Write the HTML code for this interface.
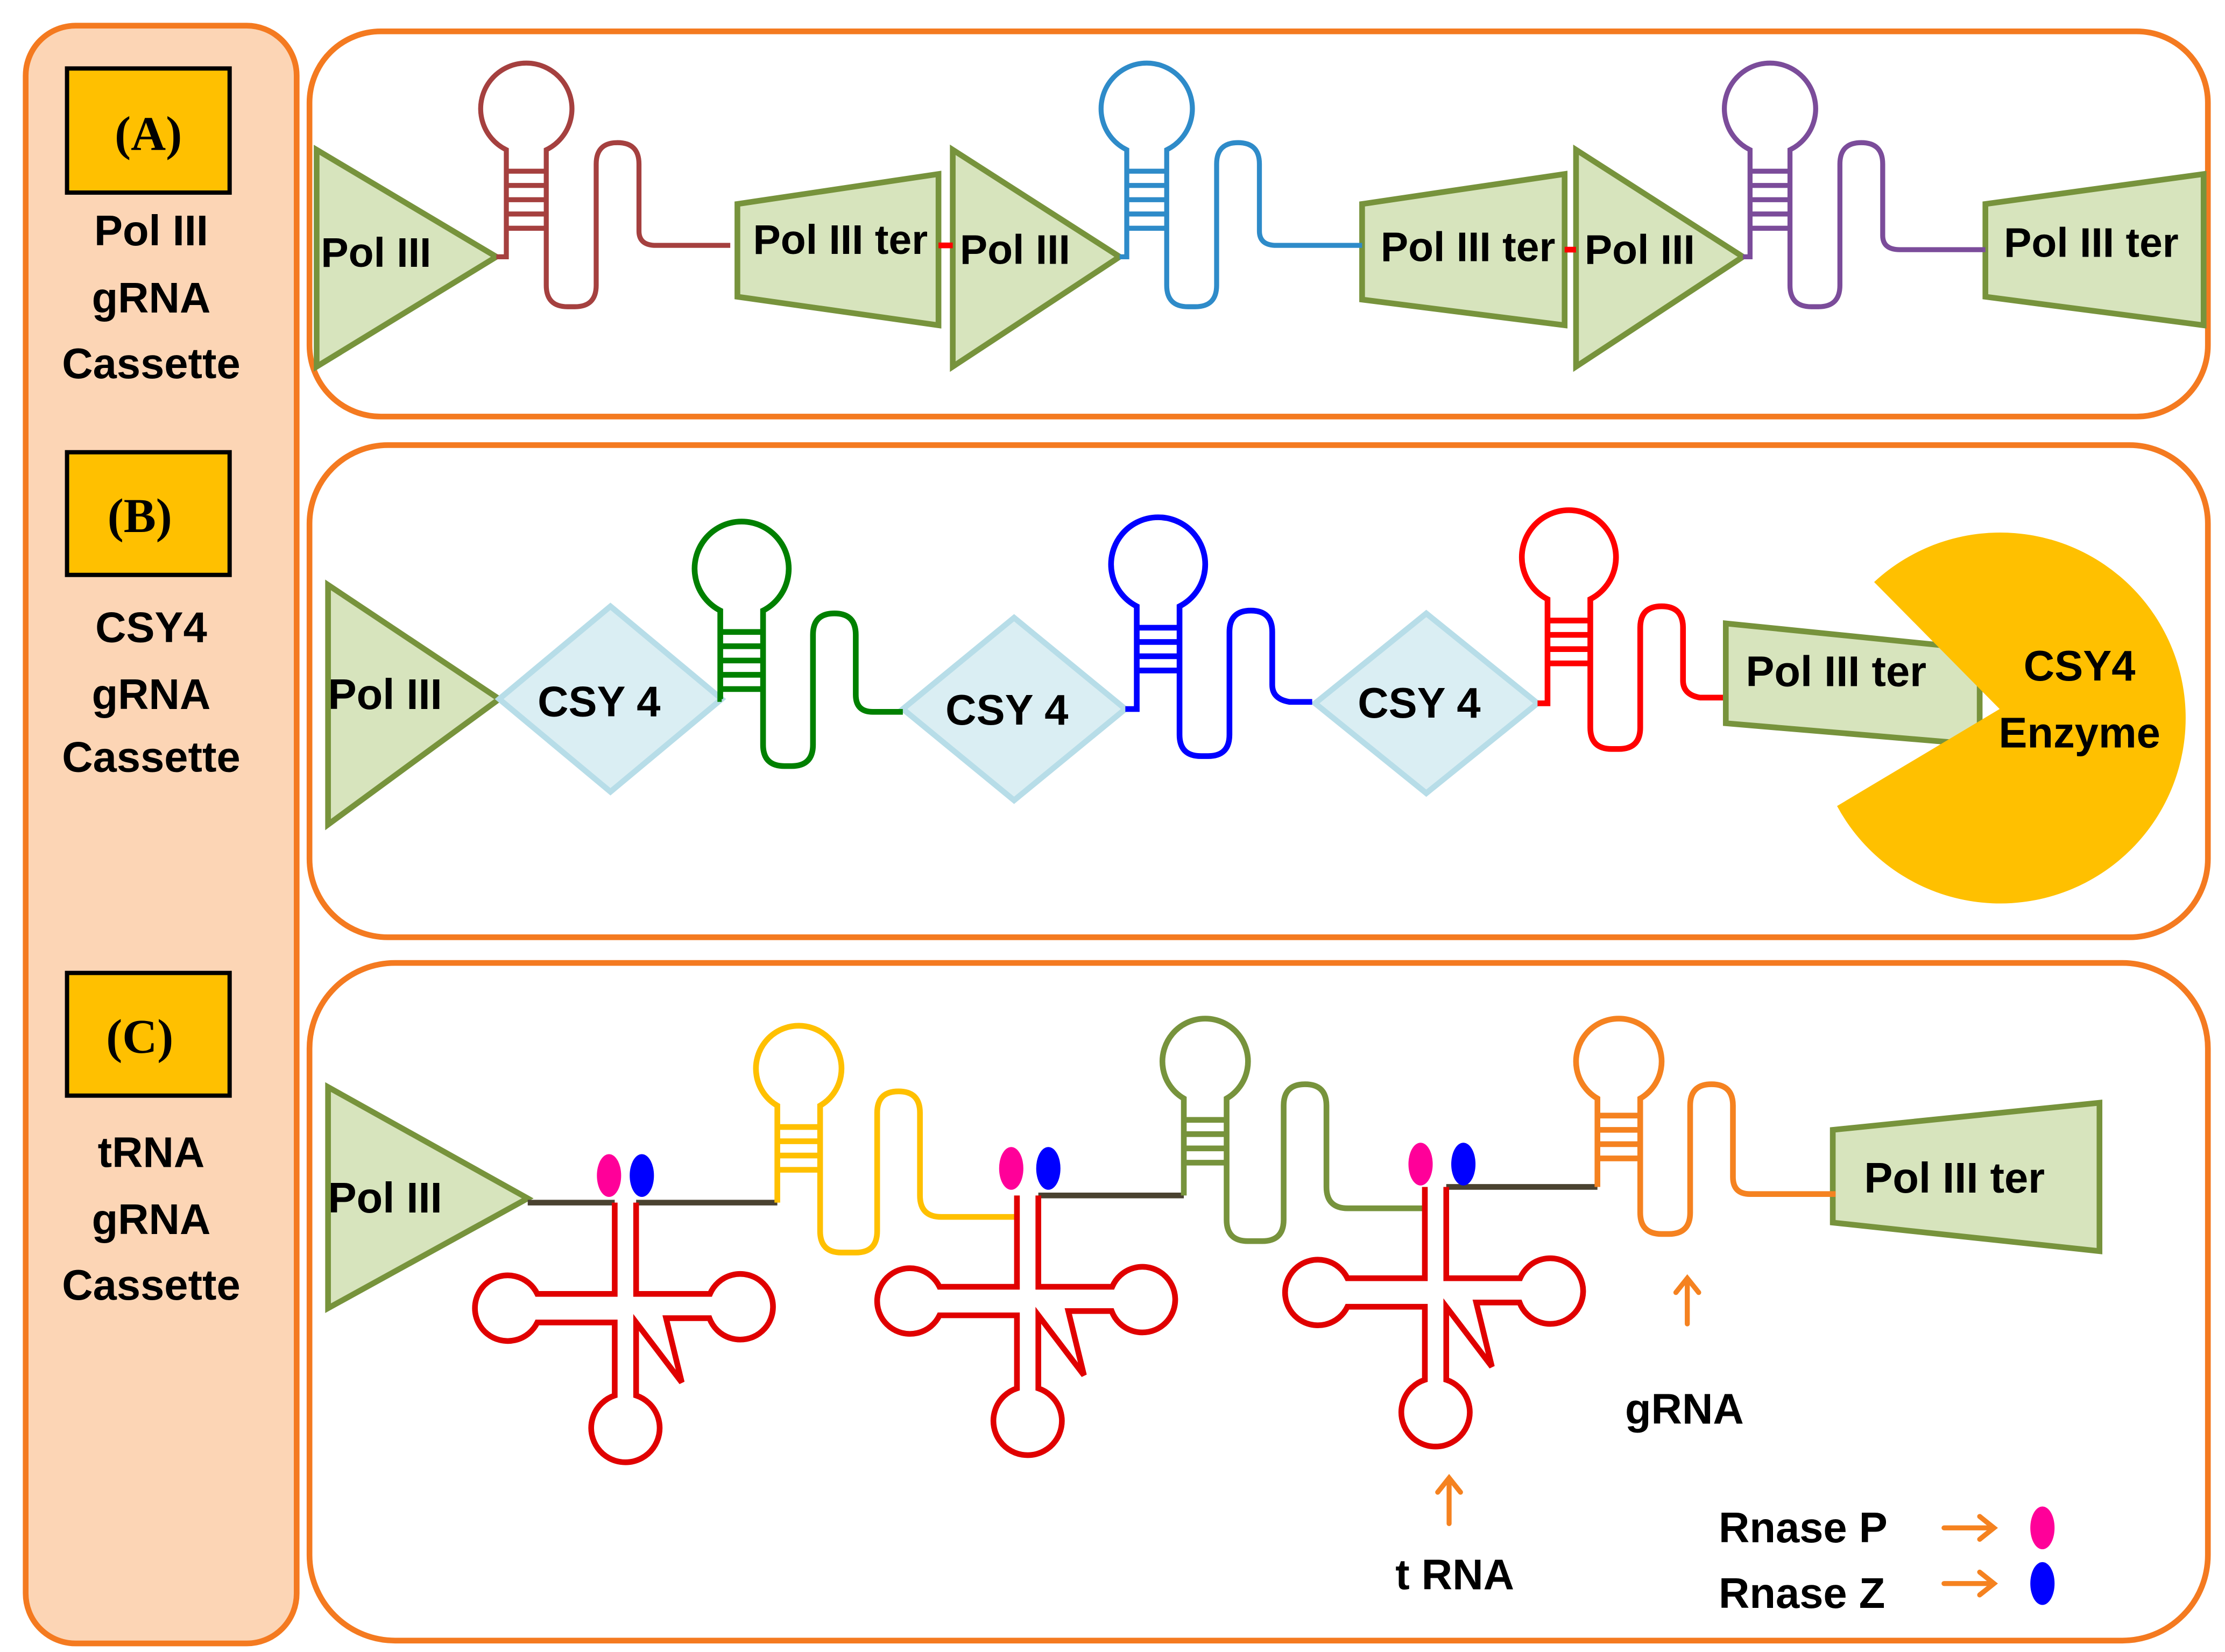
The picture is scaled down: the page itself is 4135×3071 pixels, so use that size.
<!DOCTYPE html>
<html><head><meta charset="utf-8"><style>
html,body{margin:0;padding:0;background:#fff;}
svg{display:block;}
text{font-family:"Liberation Sans",sans-serif;font-weight:bold;fill:#000;}
</style></head><body>
<svg width="4135" height="3071" viewBox="0 0 1560 1158" preserveAspectRatio="none" xmlns="http://www.w3.org/2000/svg">
<defs>
<marker id="ar" markerWidth="6" markerHeight="6" refX="4" refY="3" orient="auto" markerUnits="strokeWidth"><path d="M0,0 L4,3 L0,6" fill="none" stroke="#F58220" stroke-width="1.2"/></marker>
</defs>
<!-- left panel -->
<rect x="18" y="18" width="190" height="1134" rx="35" fill="#FCD5B5" stroke="#F47A20" stroke-width="4"/>
<rect x="217" y="22" width="1331" height="270" rx="50" fill="#fff" stroke="#F47A20" stroke-width="4"/>
<rect x="217" y="312" width="1331" height="345" rx="55" fill="#fff" stroke="#F47A20" stroke-width="4"/>
<rect x="217" y="675" width="1331" height="475" rx="60" fill="#fff" stroke="#F47A20" stroke-width="4"/>

<g font-size="30" text-anchor="middle">
<rect x="47" y="48" width="114" height="87" fill="#FFC000" stroke="#000" stroke-width="3"/>
<text x="104" y="105" style="font-family:'Liberation Serif',serif" font-size="34">(A)</text>
<text x="106" y="172">Pol III</text><text x="106" y="219">gRNA</text><text x="106" y="265">Cassette</text>
<rect x="47" y="317" width="114" height="86" fill="#FFC000" stroke="#000" stroke-width="3"/>
<text x="98" y="373" style="font-family:'Liberation Serif',serif" font-size="34">(B)</text>
<text x="106" y="450">CSY4</text><text x="106" y="497">gRNA</text><text x="106" y="541">Cassette</text>
<rect x="47" y="682" width="114" height="86" fill="#FFC000" stroke="#000" stroke-width="3"/>
<text x="98" y="738" style="font-family:'Liberation Serif',serif" font-size="34">(C)</text>
<text x="106" y="818">tRNA</text><text x="106" y="865">gRNA</text><text x="106" y="911">Cassette</text>
</g>

<!-- Panel A -->
<g fill="#D7E4BD" stroke="#77933C" stroke-width="4" stroke-linejoin="miter">
<polygon points="222,105 348,180 222,257"/>
<polygon points="517,143 658,122 658,228 517,208"/>
<polygon points="668,105 785,180 668,257"/>
<polygon points="955,143 1097,122 1097,228 955,210"/>
<polygon points="1105,105 1222,180 1105,257"/>
<polygon points="1392,143 1545,122 1545,228 1392,208"/>
</g>
<line x1="658" y1="172" x2="668" y2="172" stroke="#FF0000" stroke-width="4"/>
<line x1="1097" y1="175" x2="1105" y2="175" stroke="#FF0000" stroke-width="4"/>
<g fill="none" stroke-width="3.5">
<g stroke="#A5403F">
<path d="M348,180 H355 v-75 a32,32 0 1 1 28,0 v95 q0,15 15,15 h5 q15,0 15,-15 v-85 q0,-15 15,-15 q15,0 15,15 v47 q0,10 12,10 H512"/>
<path d="M355,120 h28 M355,130 h28 M355,140 h28 M355,150 h28 M355,160 h28"/>
</g>
<g stroke="#2E8BC9">
<path d="M785,180 H790 v-75 a32,32 0 1 1 28,0 v95 q0,15 15,15 h5 q15,0 15,-15 v-85 q0,-15 15,-15 q15,0 15,15 v47 q0,10 12,10 H955"/>
<path d="M790,120 h28 M790,130 h28 M790,140 h28 M790,150 h28 M790,160 h28"/>
</g>
<g stroke="#7B4C9A">
<path d="M1222,180 H1227 v-75 a32,32 0 1 1 28,0 v95 q0,15 15,15 h5 q15,0 15,-15 v-85 q0,-15 15,-15 q15,0 15,15 v50 q0,10 12,10 H1392"/>
<path d="M1227,120 h28 M1227,130 h28 M1227,140 h28 M1227,150 h28 M1227,160 h28"/>
</g>
</g>
<g font-size="29">
<text x="225" y="187">Pol III</text>
<text x="528" y="178">Pol III ter</text>
<text x="673" y="185">Pol III</text>
<text x="968" y="183">Pol III ter</text>
<text x="1111" y="185">Pol III</text>
<text x="1405" y="180">Pol III ter</text>
</g>

<!-- Panel B -->
<polygon points="230,410 350,490 230,578" fill="#D7E4BD" stroke="#77933C" stroke-width="4"/>
<g fill="#DAEEF3" stroke="#B7DDE8" stroke-width="4">
<polygon points="350,490 428,425 506,490 428,555"/>
<polygon points="633,497 711,433 789,497 711,561"/>
<polygon points="922,493 1000,430 1078,493 1000,556"/>
</g>
<g fill="none" stroke-width="4">
<g stroke="#008000">
<path d="M506,490 H505 v-62 a33,33 0 1 1 30,0 v94 q0,15 15,15 h5 q15,0 15,-15 v-77 q0,-15 15,-15 q15,0 15,15 v42 q0,12 12,12 H633"/>
<path d="M505,443 h30 M505,453 h30 M505,463 h30 M505,473 h30 M505,483 h30"/>
</g>
<g stroke="#0000FF">
<path d="M789,497 H797 v-72 a33,33 0 1 1 30,0 v90 q0,15 15,15 h5 q15,0 15,-15 v-72 q0,-15 15,-15 q15,0 15,15 v37 q0,10 12,12 H920"/>
<path d="M797,440 h30 M797,450 h30 M797,460 h30 M797,470 h30"/>
</g>
<g stroke="#FF0000">
<path d="M1078,493 H1085 v-73 a33,33 0 1 1 30,0 v90 q0,15 15,15 h5 q15,0 15,-15 v-70 q0,-15 15,-15 q15,0 15,15 v37 q0,10 12,12 H1208"/>
<path d="M1085,435 h30 M1085,445 h30 M1085,455 h30 M1085,465 h30"/>
</g>
</g>
<polygon points="1210,437 1388,455 1388,522 1210,507" fill="#D7E4BD" stroke="#77933C" stroke-width="4"/>
<path d="M1402,497 L1314,408 A130,130 0 1 1 1288,565 Z" fill="#FFC000"/>
<g font-size="30">
<text x="230" y="497">Pol III</text>
<text x="420" y="502" text-anchor="middle">CSY 4</text>
<text x="706" y="508" text-anchor="middle">CSY 4</text>
<text x="995" y="503" text-anchor="middle">CSY 4</text>
<text x="1224" y="481">Pol III ter</text>
<text x="1458" y="477" text-anchor="middle">CSY4</text>
<text x="1458" y="524" text-anchor="middle">Enzyme</text>
</g>

<!-- Panel C -->
<polygon points="230,762 370,840 230,917" fill="#D7E4BD" stroke="#77933C" stroke-width="4"/>
<polygon points="1285,792 1472,773 1472,877 1285,857" fill="#D7E4BD" stroke="#77933C" stroke-width="4"/>
<g stroke="#4A4230" stroke-width="4" fill="none">
<path d="M370,843 H431 M446,843 H545"/>
<path d="M728,838 H830"/>
<path d="M1014,832 H1120"/>
</g>
<g fill="none" stroke-width="4">
<g stroke="#FFC000">
<path d="M545,843 v-68 a30,30 0 1 1 30,0 v88 q0,15 15,15 h10 q15,0 15,-15 v-83 q0,-15 15,-15 q15,0 15,15 v58 q0,15 15,15 H713"/>
<path d="M545,790 h30 M545,800 h30 M545,810 h30 M545,820 h30"/>
</g>
<g stroke="#77933C">
<path d="M830,838 v-68 a30,30 0 1 1 30,0 v85 q0,15 15,15 h10 q15,0 15,-15 v-80 q0,-15 15,-15 q15,0 15,15 v57 q0,15 15,15 H999"/>
<path d="M830,785 h30 M830,795 h30 M830,805 h30 M830,815 h30"/>
</g>
<g stroke="#F58220">
<path d="M1120,832 v-62 a30,30 0 1 1 30,0 v80 q0,15 15,15 h5 q15,0 15,-15 v-75 q0,-15 15,-15 q15,0 15,15 v50 q0,12 12,12 H1287"/>
<path d="M1120,782 h30 M1120,792 h30 M1120,802 h30 M1120,812 h30"/>
</g>
</g>
<g fill="none" stroke="#E00000" stroke-width="4">
<path id="trna" transform="translate(431,843)" d="M0,0 V64 H-54.3 A23,23 0 1 0 -54.3,84 H0 V135.2 A24,24 0 1 0 15,135.2 V84 L47,126 L36,81 H66.4 A23,23 0 1 0 66.8,64 H15 V0"/>
<path transform="translate(713,838)" d="M0,0 V64 H-54.3 A23,23 0 1 0 -54.3,84 H0 V135.2 A24,24 0 1 0 15,135.2 V84 L47,126 L36,81 H66.4 A23,23 0 1 0 66.8,64 H15 V0"/>
<path transform="translate(999,832)" d="M0,0 V64 H-54.3 A23,23 0 1 0 -54.3,84 H0 V135.2 A24,24 0 1 0 15,135.2 V84 L47,126 L36,81 H66.4 A23,23 0 1 0 66.8,64 H15 V0"/>
</g>
<g>
<ellipse cx="427" cy="824" rx="8.5" ry="15" fill="#FF0099"/><ellipse cx="450" cy="824" rx="8.5" ry="15" fill="#0000FF"/>
<ellipse cx="709" cy="819" rx="8.5" ry="15" fill="#FF0099"/><ellipse cx="735" cy="819" rx="8.5" ry="15" fill="#0000FF"/>
<ellipse cx="996" cy="816" rx="8.5" ry="15" fill="#FF0099"/><ellipse cx="1026" cy="816" rx="8.5" ry="15" fill="#0000FF"/>
<ellipse cx="1432" cy="1071" rx="8.5" ry="15" fill="#FF0099"/><ellipse cx="1432" cy="1110" rx="8.5" ry="15" fill="#0000FF"/>
</g>
<g stroke="#F58220" stroke-width="3.5" fill="none" stroke-linecap="round">
<path d="M1183,928 V896 M1175,906 L1183,896 L1191,906"/>
<path d="M1016,1068 V1036 M1008,1046 L1016,1036 L1024,1046"/>
<path d="M1363,1071 H1398 M1388,1063 L1398,1071 L1388,1079"/>
<path d="M1363,1110 H1398 M1388,1102 L1398,1110 L1388,1118"/>
</g>
<g font-size="30">
<text x="230" y="850">Pol III</text>
<text x="1307" y="836">Pol III ter</text>
<text x="1181" y="998" text-anchor="middle">gRNA</text>
<text x="1020" y="1114" text-anchor="middle">t RNA</text>
<text x="1205" y="1081">Rnase P</text>
<text x="1205" y="1127">Rnase Z</text>
</g>
</svg>
</body></html>
